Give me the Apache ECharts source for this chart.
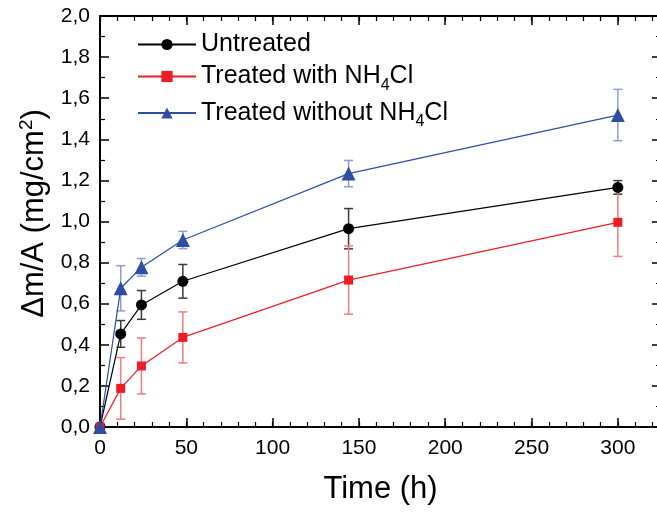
<!DOCTYPE html>
<html>
<head>
<meta charset="utf-8">
<script src="https://cdn.jsdelivr.net/npm/echarts@6/dist/echarts.min.js"></script>
<style>
html,body{margin:0;padding:0;background:#fff;}
#c{width:657px;height:515px;}
</style>
</head>
<body>
<div id="c"></div>
<script>
// ---- data ----
var times = [0, 12, 24, 48, 144, 300];
var untreated = [0, 0.453, 0.594, 0.709, 0.965, 1.166];
var untreatedErr = [0, 0.065, 0.070, 0.082, 0.098, 0.033];
var withNH4Cl = [0, 0.188, 0.297, 0.436, 0.715, 0.996];
var withNH4ClErr = [0, 0.150, 0.136, 0.124, 0.166, 0.166];
var withoutNH4Cl = [0, 0.675, 0.777, 0.910, 1.233, 1.518];
var withoutNH4ClErr = [0, 0.110, 0.043, 0.042, 0.064, 0.125];
var seriesNames = ['Untreated', 'Treated with NH4Cl', 'Treated without NH4Cl'];
var xTicks = [0, 50, 100, 150, 200, 250, 300];
var yTicks = [0, 0.2, 0.4, 0.6, 0.8, 1.0, 1.2, 1.4, 1.6, 1.8, 2.0];

var FONT = "'Liberation Sans', Arial, Helvetica, sans-serif";
var chart = echarts.init(document.getElementById('c'), null, {renderer: 'canvas'});

function pairs(v) { return times.map(function (t, i) { return [t, v[i]]; }); }
function errData(v, e) {
  var out = [];
  times.forEach(function (t, i) { if (e[i] > 0) out.push([t, v[i] - e[i], v[i] + e[i]]); });
  return out;
}
function errSeries(v, e, color) {
  return {
    type: 'custom', xAxisIndex: 0, yAxisIndex: 0, silent: true,
    encode: {x: 0, y: [1, 2]},
    data: errData(v, e),
    renderItem: function (params, api) {
      var x = api.value(0);
      var lo = api.coord([x, api.value(1)]);
      var hi = api.coord([x, api.value(2)]);
      var hw = 4.5;
      var st = {stroke: color, lineWidth: 1.5};
      return {type: 'group', children: [
        {type: 'line', shape: {x1: hi[0], y1: hi[1], x2: lo[0], y2: lo[1]}, style: st},
        {type: 'line', shape: {x1: hi[0] - hw, y1: hi[1], x2: hi[0] + hw, y2: hi[1]}, style: st},
        {type: 'line', shape: {x1: lo[0] - hw, y1: lo[1], x2: lo[0] + hw, y2: lo[1]}, style: st}
      ]};
    }
  };
}
function lineSeries(name, v, color, symbol, size) {
  return {
    name: name, type: 'line', xAxisIndex: 0, yAxisIndex: 0,
    data: pairs(v), symbol: symbol, symbolSize: size, showSymbol: true,
    lineStyle: {color: color, width: 1.2},
    itemStyle: {color: color, borderWidth: 0},
    clip: false
  };
}

var XMIN = 0, XMAX = 325;
var majorX = function (pos, showLabel) {
  return {
    type: 'value', position: pos, min: XMIN, max: XMAX, interval: 50,
    axisLine: {show: true, onZero: false, lineStyle: {color: '#000', width: 2}},
    axisTick: {show: true, inside: true, length: 9, lineStyle: {color: '#000', width: 1.5}},
    axisLabel: {show: showLabel, showMaxLabel: false, fontSize: 21, color: '#000', fontFamily: FONT, margin: 11},
    splitLine: {show: false}
  };
};
var minorX = function (pos) {
  return {
    type: 'value', position: pos, min: XMIN, max: XMAX, interval: 10,
    axisLine: {show: false, onZero: false},
    axisTick: {show: true, inside: true, length: 5, lineStyle: {color: '#000', width: 1.2}},
    axisLabel: {show: false},
    splitLine: {show: false}
  };
};
var yAxisDef = function (pos, showLabel) {
  return {
    type: 'value', position: pos, min: 0, max: 2, interval: 0.2,
    axisLine: {show: true, onZero: false, lineStyle: {color: '#000', width: 2}},
    axisTick: {show: true, inside: true, length: 9, lineStyle: {color: '#000', width: 1.5}},
    minorTick: {show: true, splitNumber: 2, length: 5, lineStyle: {color: '#000', width: 1.2}},
    axisLabel: {show: showLabel, fontSize: 21, color: '#000', fontFamily: FONT, margin: 10,
      formatter: function (v) { return v.toFixed(1).replace('.', ','); }},
    splitLine: {show: false}
  };
};

var xMain = majorX('bottom', true);
xMain.name = 'Time (h)';
xMain.nameLocation = 'middle';
xMain.nameGap = 47;
xMain.nameTextStyle = {fontSize: 31, color: '#000', fontFamily: FONT};

var yMain = yAxisDef('left', true);
yMain.name = '{t|\u0394m/A (mg/cm}{sup|2}{t|)}';
yMain.nameLocation = 'middle';
yMain.nameGap = 44;
yMain.nameTextStyle = {
  color: '#000', fontFamily: FONT, padding: [0, 0, 0, 16],
  rich: {
    t: {fontSize: 31, fontFamily: FONT, color: '#000', lineHeight: 34},
    sup: {fontSize: 19, fontFamily: FONT, color: '#000', verticalAlign: 'top', lineHeight: 16}
  }
};
var yRight = yAxisDef('right', false);

var option = {
  backgroundColor: '#fff',
  animation: false,
  grid: {left: 100, top: 16, width: 561, height: 411, containLabel: false, outerBoundsMode: 'none'},
  legend: {
    orient: 'vertical', left: 137, top: 32, padding: 0, itemWidth: 58, itemHeight: 14, itemGap: 7,
    data: seriesNames,
    formatter: function (name) {
      if (name.indexOf('NH4Cl') >= 0) {
        var parts = name.split('NH4Cl');
        return '{n|' + parts[0] + 'NH}{s|4}{n|Cl}';
      }
      return '{n|' + name + '}';
    },
    textStyle: {
      color: '#000', fontFamily: FONT, fontSize: 25,
      rich: {
        n: {fontSize: 25, fontFamily: FONT, color: '#000', lineHeight: 34},
        s: {fontSize: 16, fontFamily: FONT, color: '#000', verticalAlign: 'bottom', lineHeight: 10}
      }
    }
  },
  xAxis: [xMain, minorX('bottom'), majorX('top', false), minorX('top')],
  yAxis: [yMain, yRight],
  series: [
    lineSeries(seriesNames[0], untreated, '#000000', 'circle', 11),
    errSeries(untreated, untreatedErr, '#3a3a3a'),
    lineSeries(seriesNames[1], withNH4Cl, '#ee1d25', 'rect', 9),
    errSeries(withNH4Cl, withNH4ClErr, '#f27b7d'),
    lineSeries(seriesNames[2], withoutNH4Cl, '#2d4ea3', 'triangle', 14),
    errSeries(withoutNH4Cl, withoutNH4ClErr, '#8c9dd2')
  ]
};
chart.setOption(option);
</script>
</body>
</html>
